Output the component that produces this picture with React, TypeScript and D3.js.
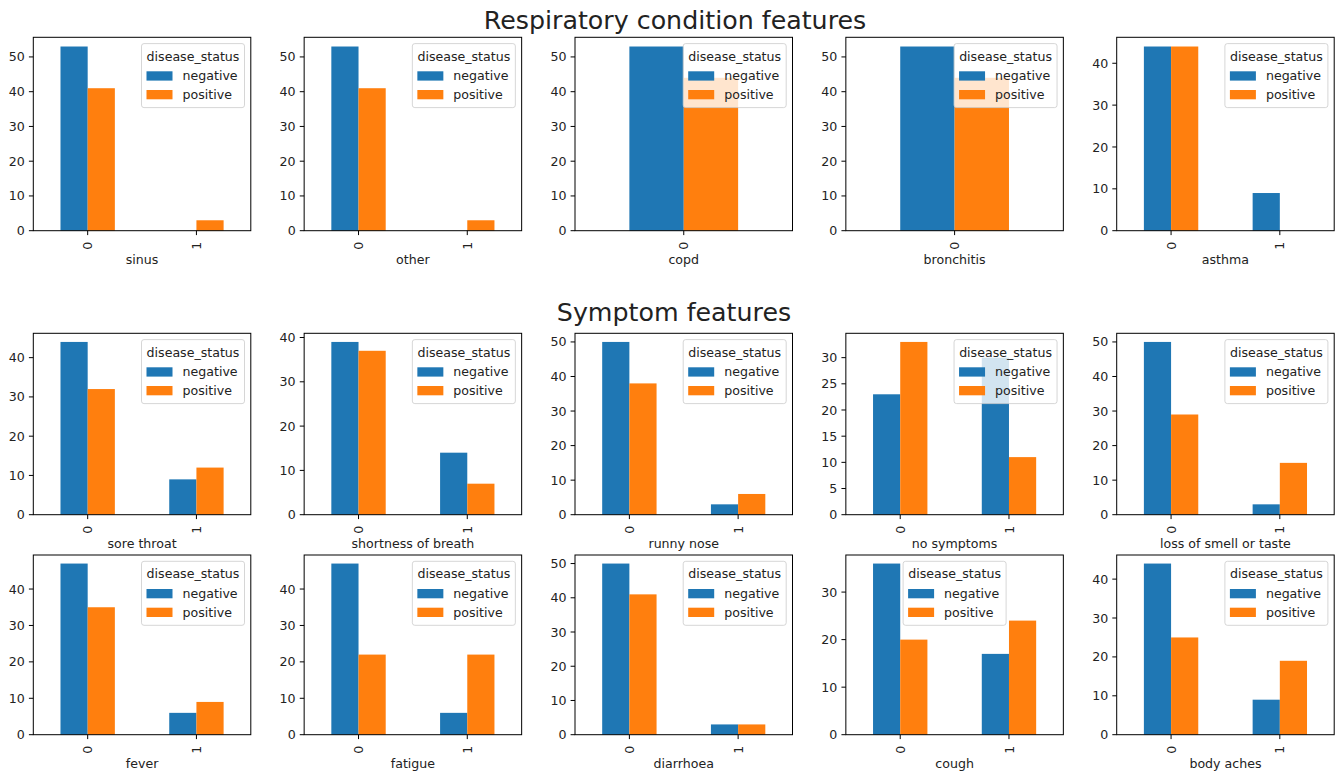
import * as d3 from "d3";

// ---- data (counts per feature value, split by disease_status)
const respFeatures = ["sinus", "other", "copd", "bronchitis", "asthma"];
const respCategories = [["0", "1"], ["0", "1"], ["0"], ["0"], ["0", "1"]];
const respNegative = [[53, 0], [53, 0], [53], [53], [44, 9]];
const respPositive = [[41, 3], [41, 3], [44], [44], [44, 0]];

const symptomFeatures = [
  "sore throat",
  "shortness of breath",
  "runny nose",
  "no symptoms",
  "loss of smell or taste",
  "fever",
  "fatigue",
  "diarrhoea",
  "cough",
  "body aches",
];
const symptomCategories = symptomFeatures.map(() => ["0", "1"]);
const symptomNegative = [
  [44, 9], [39, 14], [50, 3], [23, 30], [50, 3],
  [47, 6], [47, 6], [50, 3], [36, 17], [44, 9],
];
const symptomPositive = [
  [32, 12], [37, 7], [38, 6], [33, 11], [29, 15],
  [35, 9], [22, 22], [41, 3], [20, 24], [25, 19],
];

const seriesNames = ["negative", "positive"];
const legendTitle = "disease_status";
const titles = ["Respiratory condition features", "Symptom features"];

// ---- layout
const W = 1338;
const H = 772;
const COL_LEFT = 33.3;
const COL_STEP = 270.85;
const AX_W = 217.5;
const rows = [
  { top: 37.3, bottom: 230.7 },
  { top: 333.3, bottom: 514.7 },
  { top: 555, bottom: 734.7 },
];
const colors = ["#1f77b4", "#ff7f0e"];
const FONT = "DejaVu Sans";
const FS = 12.6;
const TXT = "#222";
// legend placed "upper center" where matplotlib's 'best' moved it
const upperCenter = new Set(["cough"]);

type Panel = {
  name: string;
  cats: string[];
  neg: number[];
  pos: number[];
  row: number;
  col: number;
};

const panels: Panel[] = [
  ...respFeatures.map((name, i) => ({
    name,
    cats: respCategories[i],
    neg: respNegative[i],
    pos: respPositive[i],
    row: 0,
    col: i,
  })),
  ...symptomFeatures.map((name, i) => ({
    name,
    cats: symptomCategories[i],
    neg: symptomNegative[i],
    pos: symptomPositive[i],
    row: 1 + Math.floor(i / 5),
    col: i % 5,
  })),
];

function Legend({ x, y }: { x: number; y: number }) {
  const w = 103;
  const h = 64;
  return (
    <g transform={`translate(${x},${y})`}>
      <rect
        width={w}
        height={h}
        rx={2.5}
        fill="#fff"
        fillOpacity={0.8}
        stroke="#ccc"
        strokeOpacity={0.8}
      />
      <text x={w / 2} y={17} textAnchor="middle" fontSize={FS} fill={TXT}>
        {legendTitle}
      </text>
      {seriesNames.map((s, i) => (
        <g key={s} transform={`translate(0,${i * 18.7})`}>
          <rect x={5} y={27.7} width={26} height={9.3} fill={colors[i]} />
          <text x={41} y={36.8} fontSize={FS} fill={TXT}>
            {s}
          </text>
        </g>
      ))}
    </g>
  );
}

function BarPanel({ p }: { p: Panel }) {
  const left = COL_LEFT + p.col * COL_STEP;
  const right = left + AX_W;
  const { top, bottom } = rows[p.row];
  const n = p.cats.length;
  const x = d3.scaleLinear().domain([-0.5, n - 0.5]).range([left, right]);
  const maxV = d3.max([...p.neg, ...p.pos]) as number;
  const y = d3.scaleLinear().domain([0, maxV * 1.05]).range([bottom, top]);
  const yTicks = y.ticks(5);
  const series = [p.neg, p.pos];
  const legendX = upperCenter.has(p.name)
    ? (left + right) / 2 - 51.5
    : right - 6.3 - 103;

  return (
    <g>
      {series.map((vals, si) =>
        vals.map((v, ci) => {
          const x0 = x(ci - 0.25 + si * 0.25);
          const x1 = x(ci + si * 0.25);
          return (
            <rect
              key={`${si}-${ci}`}
              x={x0}
              y={y(v)}
              width={x1 - x0}
              height={bottom - y(v)}
              fill={colors[si]}
            />
          );
        })
      )}
      {/* spines */}
      <rect
        x={left}
        y={top}
        width={AX_W}
        height={bottom - top}
        fill="none"
        stroke="#000"
        strokeWidth={1}
      />
      {/* y ticks */}
      {yTicks.map((t) => (
        <g key={t}>
          <line x1={left - 4.4} x2={left} y1={y(t)} y2={y(t)} stroke="#000" />
          <text
            x={left - 8.5}
            y={y(t)}
            dy="0.36em"
            textAnchor="end"
            fontSize={FS}
            fill={TXT}
          >
            {t}
          </text>
        </g>
      ))}
      {/* x ticks */}
      {p.cats.map((c, ci) => (
        <g key={c}>
          <line x1={x(ci)} x2={x(ci)} y1={bottom} y2={bottom + 4.4} stroke="#000" />
          <text
            transform={`translate(${x(ci)},${bottom + 11}) rotate(-90)`}
            dy="0.36em"
            textAnchor="end"
            fontSize={FS}
            fill={TXT}
          >
            {c}
          </text>
        </g>
      ))}
      <text
        x={(left + right) / 2}
        y={bottom + 33.5}
        textAnchor="middle"
        fontSize={FS}
        fill={TXT}
      >
        {p.name}
      </text>
      <Legend x={legendX} y={top + 6.3} />
    </g>
  );
}

export default function App() {
  return (
    <svg
      width={W}
      height={H}
      style={{ position: "absolute", left: 0, top: 0, background: "#fff" }}
      fontFamily={FONT}
    >
      <rect width={W} height={H} fill="#fff" />
      <text x={675} y={29} textAnchor="middle" fontSize={25.3} fill={TXT}>
        {titles[0]}
      </text>
      <text x={674} y={321} textAnchor="middle" fontSize={25.3} fill={TXT}>
        {titles[1]}
      </text>
      {panels.map((p) => (
        <BarPanel key={p.name} p={p} />
      ))}
    </svg>
  );
}
